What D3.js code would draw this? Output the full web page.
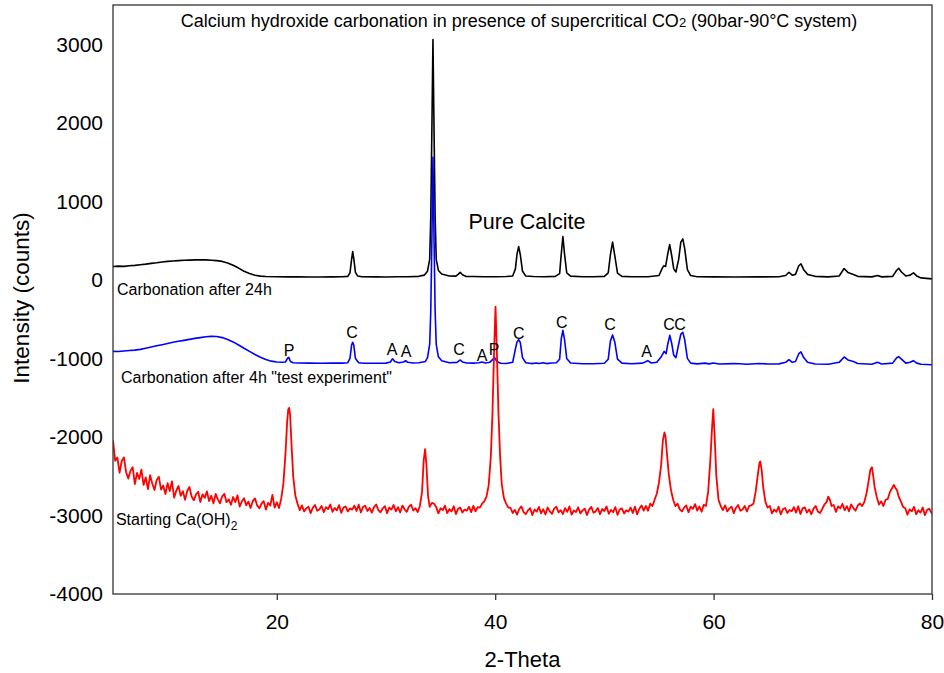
<!DOCTYPE html>
<html>
<head>
<meta charset="utf-8">
<script src="https://cdn.jsdelivr.net/npm/d3@7"></script>
<style>
  body { margin: 0; background: #fff; }
  text { font-family: "Liberation Sans", Arial, sans-serif; fill: #000; }
</style>
</head>
<body>
<svg width="944" height="673"></svg>
<script>
// tick values
var xTicks = [20, 40, 60, 80];
var yTicks = [-4000, -3000, -2000, -1000, 0, 1000, 2000, 3000];

// [2-theta, counts]
var after24h = [
  [5,170],[5.5,175],[6,172],[6.5,180],[7,185],[7.5,192],[8,200],[8.5,210],[9,218],[9.5,228],[10,235],
  [10.5,240],[11,245],[11.5,250],[12,252],[12.5,255],[13,256],[13.5,254],[14,250],[14.5,245],[15,235],
  [15.5,215],[16,185],[16.5,150],[17,110],[17.5,80],[18,58],[18.5,48],[19,43],[20,40],[21,38],[22,38],
  [23,36],[24,37],[25,38],[26,40],[26.5,45],[26.7,90],[26.85,260],[26.95,360],[27.05,270],[27.2,95],
  [27.4,50],[27.8,40],[29,38],[30,37],[31,39],[32,40],[33,45],[33.5,60],[33.8,110],[34.0,260],[34.1,800],
  [34.2,1900],[34.3,3060],[34.4,1900],[34.5,800],[34.6,260],[34.8,120],[35.1,75],[35.8,50],[36.4,48],
  [36.6,70],[36.8,95],[37.0,65],[37.3,45],[38,42],[39,40],[40,40],[41,42],[41.6,50],[41.85,140],[42.0,330],
  [42.15,424],[42.3,320],[42.5,110],[42.8,50],[43.5,42],[44.5,40],[45.5,45],[45.9,80],[46.05,330],
  [46.2,551],[46.35,330],[46.55,90],[46.9,48],[48,40],[49,40],[50,45],[50.35,90],[50.55,320],[50.75,480],
  [50.95,310],[51.2,85],[51.6,45],[52.5,40],[54,40],[55,55],[55.3,150],[55.45,182],[55.6,170],[55.8,330],
  [55.98,450],[56.15,320],[56.35,140],[56.55,100],[56.8,260],[57.0,480],[57.18,522],[57.35,400],
  [57.6,130],[57.9,55],[58.5,40],[60,38],[62,37],[64,38],[66,40],[66.6,55],[66.9,97],[67.2,60],[67.5,70],
  [67.8,180],[68.0,204],[68.25,130],[68.6,70],[68.9,60],[69.3,45],[70.5,38],[71.5,50],[71.95,144],
  [72.3,95],[72.8,68],[73.2,45],[74.5,38],[75.0,55],[75.4,38],[76.4,45],[76.75,120],[76.95,148],
  [77.2,100],[77.6,50],[78.0,60],[78.3,89],[78.6,50],[79,25],[80,13]
];

var after4h = [
  [5,-910],[5.5,-912],[6,-905],[6.5,-900],[7,-895],[7.5,-885],[8,-870],[8.5,-855],[9,-840],[9.5,-825],
  [10,-810],[10.5,-795],[11,-782],[11.5,-770],[12,-758],[12.5,-745],[13,-735],[13.5,-725],[14,-720],
  [14.5,-722],[15,-735],[15.5,-760],[16,-790],[16.5,-830],[17,-870],[17.5,-910],[18,-950],[18.5,-985],
  [19,-1015],[19.5,-1035],[20,-1045],[20.5,-1050],[20.8,-1045],[21.0,-995],[21.1,-987],[21.25,-1040],
  [21.5,-1055],[22,-1058],[23,-1060],[24,-1062],[25,-1060],[26,-1060],[26.5,-1055],[26.7,-1000],
  [26.85,-830],[26.95,-795],[27.05,-830],[27.2,-1000],[27.5,-1055],[28,-1062],[29,-1062],[30,-1060],
  [30.4,-1045],[30.6,-1005],[30.8,-1040],[31.2,-1055],[31.6,-1045],[31.8,-1030],[32.0,-1050],[32.5,-1058],
  [33,-1055],[33.4,-1045],[33.6,-1040],[33.8,-990],[34.0,-820],[34.1,-400],[34.2,500],[34.3,1560],
  [34.4,500],[34.5,-400],[34.6,-820],[34.8,-980],[35.1,-1030],[35.8,-1055],[36.5,-1050],[36.8,-1020],
  [37.0,-1045],[37.4,-1058],[38,-1060],[38.5,-1055],[38.8,-1045],[39.1,-1058],[39.5,-1050],[39.8,-1010],
  [39.95,-991],[40.15,-1040],[40.5,-1062],[41,-1065],[41.6,-1050],[41.85,-880],[42.0,-790],[42.15,-761],
  [42.3,-800],[42.5,-990],[42.8,-1055],[43.3,-1066],[43.76,-1058],[44.0,-1066],[44.38,-1055],
  [44.7,-1066],[45.14,-1058],[45.6,-1055],[45.9,-1010],[46.05,-750],[46.2,-642],[46.35,-760],
  [46.55,-1000],[46.9,-1058],[48,-1068],[49,-1068],[50,-1062],[50.35,-1010],[50.55,-780],[50.75,-701],
  [50.95,-790],[51.2,-1010],[51.6,-1060],[52.5,-1068],[53.5,-1060],[53.97,-1029],[54.3,-1058],
  [54.8,-1050],[55.2,-980],[55.47,-910],[55.65,-940],[55.8,-820],[55.99,-706],[56.15,-800],[56.35,-960],
  [56.55,-990],[56.8,-820],[57.0,-690],[57.18,-668],[57.35,-760],[57.6,-1000],[57.9,-1060],[58.5,-1070],
  [59.2,-1060],[59.6,-1070],[59.97,-1058],[60.5,-1072],[61.8,-1066],[62.4,-1068],[63,-1074],[64.2,-1064],
  [65,-1072],[66,-1070],[66.6,-1050],[66.9,-1016],[67.2,-1050],[67.5,-1040],[67.8,-940],[68.0,-918],
  [68.25,-990],[68.6,-1050],[68.9,-1058],[69.3,-1072],[70.5,-1075],[71.5,-1050],[71.96,-982],
  [72.3,-1020],[72.8,-1040],[73.2,-1065],[74.5,-1074],[75.0,-1050],[75.4,-1072],[76.4,-1060],
  [76.75,-995],[76.94,-978],[77.2,-1010],[77.6,-1060],[78.0,-1050],[78.29,-1029],[78.6,-1060],
  [79,-1075],[80,-1080]
];

var startingCaOH2 = [
  [5.0,-2045],[5.2,-2305],[5.4,-2262],[5.6,-2456],[5.8,-2306],[6.0,-2260],[6.2,-2449],[6.4,-2530],
  [6.6,-2432],[6.8,-2385],[7.0,-2600],[7.2,-2459],[7.4,-2534],[7.6,-2417],[7.8,-2611],[8.0,-2514],
  [8.2,-2664],[8.4,-2488],[8.6,-2597],[8.8,-2676],[9.0,-2548],[9.2,-2508],[9.4,-2670],[9.6,-2618],
  [9.8,-2728],[10.0,-2589],[10.2,-2690],[10.4,-2565],[10.6,-2773],[10.8,-2682],[11.0,-2625],
  [11.2,-2751],[11.4,-2690],[11.6,-2801],[11.8,-2685],[12.0,-2638],[12.2,-2759],[12.4,-2807],
  [12.6,-2734],[12.8,-2697],[13.0,-2830],[13.2,-2731],[13.4,-2776],[13.6,-2693],[13.8,-2818],
  [14.0,-2748],[14.2,-2845],[14.4,-2725],[14.6,-2795],[14.8,-2845],[15.0,-2756],[15.2,-2726],
  [15.4,-2831],[15.6,-2793],[15.8,-2863],[16.0,-2765],[16.2,-2832],[16.4,-2744],[16.6,-2888],
  [16.8,-2822],[17.0,-2780],[17.2,-2870],[17.4,-2824],[17.6,-2905],[17.8,-2818],[18.0,-2782],
  [18.2,-2872],[18.4,-2908],[18.6,-2849],[18.8,-2818],[19.0,-2925],[19.2,-2840],[19.4,-2873],
  [19.6,-2737],[19.8,-2899],[20.0,-2832],[20.2,-2905],[20.4,-2790],[20.6,-2600],[20.8,-2200],
  [20.95,-1800],[21.05,-1650],[21.13,-1630],[21.22,-1720],[21.35,-2100],[21.5,-2500],[21.7,-2750],
  [21.9,-2850],[22.1,-2932],[22.3,-2871],[22.5,-2948],[22.7,-2910],[22.9,-2888],[23.1,-2970],
  [23.3,-2901],[23.5,-2866],[23.7,-2940],[23.9,-2923],[24.1,-2879],[24.3,-2959],[24.5,-2893],
  [24.7,-2918],[24.9,-2860],[25.1,-2954],[25.3,-2904],[25.5,-2934],[25.7,-2868],[25.9,-2967],
  [26.1,-2899],[26.3,-2885],[26.5,-2948],[26.7,-2910],[26.9,-2926],[27.1,-2874],[27.3,-2943],
  [27.5,-2863],[27.7,-2962],[27.9,-2890],[28.1,-2877],[28.3,-2943],[28.5,-2904],[28.7,-2965],
  [28.9,-2893],[29.1,-2860],[29.3,-2932],[29.5,-2959],[29.7,-2910],[29.9,-2882],[30.1,-2970],
  [30.3,-2899],[30.5,-2926],[30.7,-2866],[30.9,-2948],[31.1,-2896],[31.3,-2962],[31.5,-2874],
  [31.7,-2921],[31.9,-2954],[32.1,-2888],[32.3,-2863],[32.5,-2937],[32.7,-2907],[32.9,-2956],
  [33.1,-2882],[33.3,-2700],[33.45,-2300],[33.58,-2155],[33.7,-2350],[33.85,-2750],[34.0,-2890],
  [34.2,-2840],[34.4,-2850],[34.6,-2894],[34.8,-2974],[35.0,-2908],[35.2,-2933],[35.4,-2875],
  [35.6,-2969],[35.8,-2919],[36.0,-2949],[36.2,-2883],[36.4,-2982],[36.6,-2914],[36.8,-2900],
  [37.0,-2963],[37.2,-2925],[37.4,-2941],[37.6,-2889],[37.8,-2958],[38.0,-2878],[38.2,-2947],
  [38.4,-2895],[38.6,-2900],[38.8,-2850],[39.0,-2820],[39.2,-2760],[39.4,-2620],[39.6,-2250],
  [39.75,-1700],[39.9,-900],[40.03,-340],[40.15,-900],[40.3,-1700],[40.45,-2250],[40.6,-2600],
  [40.8,-2780],[41.0,-2850],[41.2,-2900],[41.4,-2902],[41.6,-2968],[41.8,-2929],[42.0,-2990],
  [42.2,-2918],[42.4,-2885],[42.6,-2957],[42.8,-2984],[43.0,-2935],[43.2,-2907],[43.4,-2995],
  [43.6,-2924],[43.8,-2951],[44.0,-2891],[44.2,-2973],[44.4,-2921],[44.6,-2987],[44.8,-2899],
  [45.0,-2946],[45.2,-2979],[45.4,-2913],[45.6,-2888],[45.8,-2962],[46.0,-2932],[46.2,-2981],
  [46.4,-2907],[46.6,-2954],[46.8,-2885],[47.0,-2990],[47.2,-2937],[47.4,-2957],[47.6,-2896],
  [47.8,-2973],[48.0,-2935],[48.2,-2913],[48.4,-2995],[48.6,-2926],[48.8,-2891],[49.0,-2965],
  [49.2,-2948],[49.4,-2904],[49.6,-2984],[49.8,-2918],[50.0,-2943],[50.2,-2885],[50.4,-2979],
  [50.6,-2929],[50.8,-2959],[51.0,-2893],[51.2,-2992],[51.4,-2924],[51.6,-2910],[51.8,-2973],
  [52.0,-2935],[52.2,-2951],[52.4,-2899],[52.6,-2968],[52.8,-2888],[53.0,-2987],[53.2,-2915],
  [53.4,-2872],[53.6,-2938],[53.8,-2879],[54.0,-2940],[54.2,-2848],[54.4,-2880],[54.6,-2800],
  [54.8,-2720],[55.0,-2580],[55.2,-2350],[55.35,-2050],[55.5,-1943],[55.6,-2000],[55.75,-2250],
  [55.9,-2480],[56.1,-2680],[56.3,-2800],[56.5,-2880],[56.7,-2850],[56.9,-2922],[57.1,-2949],
  [57.3,-2900],[57.5,-2872],[57.7,-2960],[57.9,-2888],[58.1,-2916],[58.3,-2855],[58.5,-2938],
  [58.7,-2886],[58.9,-2952],[59.1,-2864],[59.3,-2880],[59.5,-2700],[59.7,-2300],[59.85,-1900],
  [59.97,-1645],[60.1,-2000],[60.25,-2500],[60.45,-2800],[60.65,-2880],[60.85,-2932],[61.05,-2871],
  [61.25,-2948],[61.45,-2910],[61.65,-2888],[61.85,-2970],[62.05,-2901],[62.25,-2866],[62.45,-2940],
  [62.65,-2923],[62.85,-2879],[63.05,-2950],[63.25,-2880],[63.45,-2870],[63.65,-2850],[63.85,-2700],
  [64.05,-2480],[64.2,-2330],[64.28,-2313],[64.4,-2420],[64.55,-2650],[64.75,-2830],[64.95,-2900],
  [65.15,-2880],[65.35,-2974],[65.55,-2924],[65.75,-2954],[65.95,-2888],[66.15,-2987],[66.35,-2919],
  [66.55,-2905],[66.75,-2968],[66.95,-2930],[67.15,-2946],[67.35,-2894],[67.55,-2963],[67.75,-2883],
  [67.95,-2982],[68.15,-2910],[68.35,-2897],[68.55,-2963],[68.75,-2924],[68.95,-2985],[69.15,-2913],
  [69.35,-2880],[69.55,-2951],[69.75,-2969],[69.95,-2915],[70.15,-2860],[70.35,-2830],[70.5,-2760],
  [70.65,-2800],[70.8,-2880],[71.0,-2867],[71.2,-2955],[71.4,-2884],[71.6,-2911],[71.8,-2851],
  [72.0,-2933],[72.2,-2881],[72.4,-2947],[72.6,-2859],[72.8,-2906],[73.0,-2939],[73.2,-2873],
  [73.4,-2848],[73.6,-2880],[73.8,-2830],[74.0,-2720],[74.2,-2560],[74.35,-2420],[74.5,-2385],
  [74.6,-2480],[74.75,-2640],[74.95,-2770],[75.15,-2860],[75.35,-2820],[75.55,-2880],[75.75,-2800],
  [75.95,-2790],[76.15,-2700],[76.35,-2650],[76.5,-2610],[76.65,-2650],[76.8,-2680],[76.95,-2760],
  [77.15,-2820],[77.35,-2890],[77.55,-2909],[77.75,-2989],[77.95,-2923],[78.15,-2948],[78.35,-2890],
  [78.55,-2984],[78.75,-2934],[78.95,-2964],[79.15,-2898],[79.35,-2997],[79.55,-2929],[79.75,-2915],
  [80.0,-2978]
];

// phase letters: [label, 2-theta, counts]
var peakLabels = [
  ["P", 21.12, -969], ["C", 26.89, -740], ["A", 30.55, -957], ["A", 31.83, -982],
  ["C", 36.68, -957], ["A", 38.79, -1033], ["P", 39.89, -957], ["C", 42.15, -753],
  ["C", 46.09, -613], ["C", 50.51, -638], ["A", 53.87, -982], ["C", 55.92, -638], ["C", 56.93, -638]
];

var svg = d3.select("svg");
var plot = { top: 5, right: 932, bottom: 594, left: 113 };

var xScale = d3.scaleLinear().domain([5, 80]).range([plot.left, plot.right]);
var yScale = d3.scaleLinear().domain([-4000, 3500]).range([plot.bottom, plot.top]);

svg.append("defs").append("clipPath").attr("id", "clip")
  .append("rect")
    .attr("x", plot.left).attr("y", plot.top)
    .attr("width", plot.right - plot.left).attr("height", plot.bottom - plot.top);

// axes
var xAxis = svg.append("g")
    .attr("transform", `translate(0, ${plot.bottom})`)
    .call(d3.axisBottom(xScale).tickValues(xTicks).tickSize(6).tickPadding(14));
xAxis.select(".domain").remove();
xAxis.selectAll("line").attr("stroke", "#333").attr("stroke-width", 1.3);
xAxis.selectAll("text").attr("font-size", 21).attr("fill", "#000")
  .style("font-family", "'Liberation Sans', Arial, sans-serif");

var yAxis = svg.append("g")
    .attr("transform", `translate(${plot.left}, 0)`)
    .call(d3.axisLeft(yScale).tickValues(yTicks).tickSize(0).tickPadding(10)
      .tickFormat(d => String(d)));
yAxis.select(".domain").remove();
yAxis.selectAll("text").attr("font-size", 21).attr("fill", "#000")
  .style("font-family", "'Liberation Sans', Arial, sans-serif");

// lines
var line = d3.line()
  .x(d => xScale(d[0]))
  .y(d => yScale(d[1]));

var series = [
  { key: "24h", values: after24h, color: "#000", width: 1.6 },
  { key: "4h", values: after4h, color: "#0000ff", width: 1.6 },
  { key: "start", values: startingCaOH2, color: "#ff0000", width: 1.8 }
];

svg.append("g")
    .attr("clip-path", "url(#clip)")
  .selectAll("path")
  .data(series)
  .enter()
  .append("path")
    .attr("d", d => line(d.values))
    .attr("fill", "none")
    .attr("stroke", d => d.color)
    .attr("stroke-width", d => d.width)
    .attr("stroke-linejoin", "round");

// frame
svg.append("rect")
    .attr("x", plot.left).attr("y", plot.top)
    .attr("width", plot.right - plot.left).attr("height", plot.bottom - plot.top)
    .attr("fill", "none")
    .attr("stroke", "#333")
    .attr("stroke-width", 1.3);

// peak letters
svg.append("g")
  .selectAll("text")
  .data(peakLabels)
  .enter()
  .append("text")
    .attr("x", d => xScale(d[1]))
    .attr("y", d => yScale(d[2]))
    .attr("text-anchor", "middle")
    .attr("font-size", 16)
    .text(d => d[0]);

// series labels
svg.append("text")
    .attr("x", xScale(5.37)).attr("y", yScale(-193))
    .attr("font-size", 16)
    .text("Carbonation after 24h");

svg.append("text")
    .attr("x", xScale(5.73)).attr("y", yScale(-1313))
    .attr("font-size", 16)
    .text("Carbonation after 4h \"test experiment\"");

var startLabel = svg.append("text")
    .attr("x", xScale(5.27)).attr("y", yScale(-3121))
    .attr("font-size", 16)
    .text("Starting Ca(OH)");
startLabel.append("tspan")
    .attr("dy", 5)
    .attr("font-size", 12)
    .text("2");

svg.append("text")
    .attr("x", 527).attr("y", 229)
    .attr("text-anchor", "middle")
    .attr("font-size", 21.5)
    .text("Pure Calcite");

// title
var title = svg.append("text")
    .attr("x", 519).attr("y", 27)
    .attr("text-anchor", "middle")
    .attr("font-size", 18)
    .text("Calcium hydroxide carbonation in presence of supercritical CO");
title.append("tspan").attr("font-size", 13).text("2");
title.append("tspan").text(" (90bar-90°C system)");

// axis titles
svg.append("text")
    .attr("x", (plot.left + plot.right) / 2).attr("y", 667)
    .attr("text-anchor", "middle")
    .attr("font-size", 22)
    .text("2-Theta");

svg.append("text")
    .attr("transform", "translate(29, 298) rotate(-90)")
    .attr("text-anchor", "middle")
    .attr("font-size", 22.5)
    .text("Intensity (counts)");
</script>
</body>
</html>
